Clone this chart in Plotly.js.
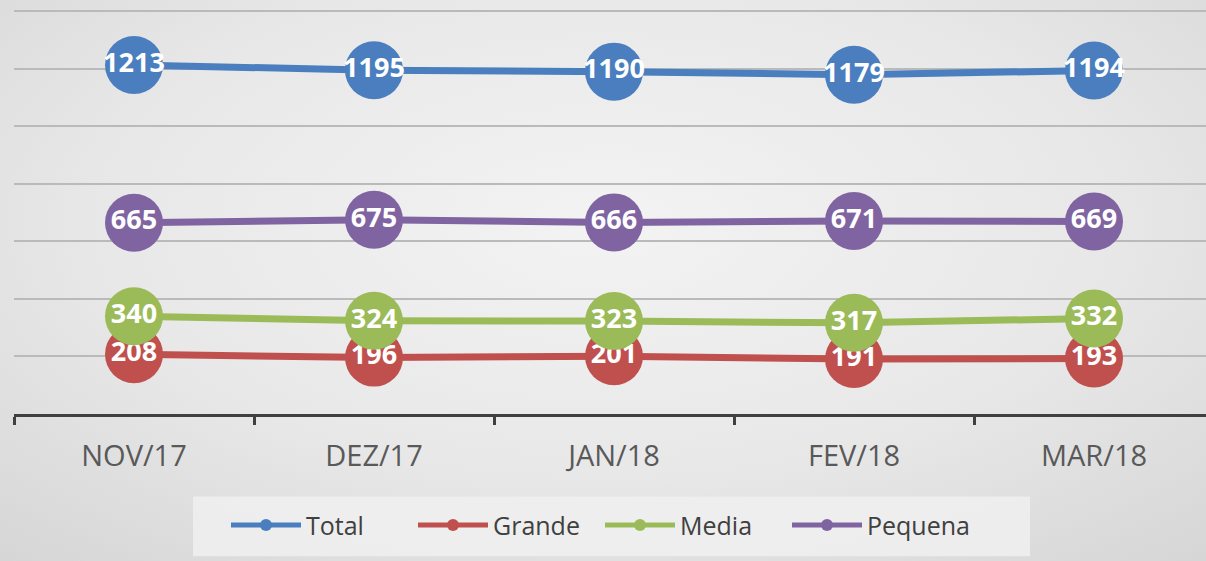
<!DOCTYPE html>
<html>
<head>
<meta charset="utf-8">
<script src="https://cdn.plot.ly/plotly-3.0.1.min.js"></script>
<style>
  html, body { margin: 0; padding: 0; }
  body {
    width: 1206px; height: 561px; overflow: hidden;
    background: radial-gradient(ellipse 75% 80% at 50% 40%, #f3f3f3 0%, #e8e8e8 55%, #d6d6d6 100%);
  }
  #chart { width: 1206px; height: 561px; }
</style>
</head>
<body>
<div id="chart"></div>
<script>
const categories = ["NOV/17", "DEZ/17", "JAN/18", "FEV/18", "MAR/18"];
const total   = [1213, 1195, 1190, 1179, 1194];
const grande  = [208, 196, 201, 191, 193];
const media   = [340, 324, 323, 317, 332];
const pequena = [665, 675, 666, 671, 669];

const seriesNames  = ["Total", "Grande", "Media", "Pequena"];
const seriesValues = [total, grande, media, pequena];
const seriesColors = ["#4a7ebf", "#c0504d", "#9bbb59", "#8064a2"];

const traces = seriesValues.map((vals, i) => ({
  type: "scatter",
  mode: "lines+markers+text",
  name: seriesNames[i],
  x: categories,
  y: vals,
  text: vals.map(String),
  textposition: "middle center",
  textfont: { family: "Open Sans", size: 27, color: "#ffffff", weight: "bold" },
  line: { color: seriesColors[i], width: 7 },
  marker: { color: seriesColors[i], size: 58 },
  cliponaxis: false
}));

const plotLeft = 14, plotRight = 1206, plotBottom = 414.5;
const paperW = plotRight - plotLeft;
const px2x = p => (p - plotLeft) / paperW;
const py2y = p => (plotBottom - p) / plotBottom;

const layout = {
  width: 1206,
  height: 561,
  margin: { l: 14, r: 0, t: 0, b: 561 - plotBottom },
  paper_bgcolor: "rgba(0,0,0,0)",
  plot_bgcolor: "rgba(0,0,0,0)",
  showlegend: true,
  legend: {
    orientation: "h",
    x: px2x(226), xanchor: "left",
    y: py2y(526), yanchor: "middle",
    bgcolor: "rgba(0,0,0,0)",
    font: { family: "Open Sans", size: 25, color: "#404040" },
    itemsizing: "constant",
    itemwidth: 70,
    entrywidth: 102,
    entrywidthmode: "pixels"
  },
  shapes: [{
    type: "rect", xref: "paper", yref: "paper", layer: "below",
    x0: px2x(193), x1: px2x(1030), y0: py2y(497), y1: py2y(557),
    fillcolor: "rgba(240,240,240,0.85)", line: { width: 0 }
  }],
  xaxis: {
    type: "category",
    range: [-0.5, -0.5 + paperW / 240],
    showgrid: false,
    showline: true, linecolor: "#404040", linewidth: 3,
    ticks: "outside", tickson: "boundaries", ticklen: 8, tickwidth: 3, tickcolor: "#404040",
    ticklabelstandoff: 14,
    tickfont: { family: "Open Sans", size: 29, color: "#595959" },
    zeroline: false,
    fixedrange: true
  },
  yaxis: {
    range: [0, 1439],
    dtick: 200,
    showgrid: true, gridcolor: "#bababa", gridwidth: 2,
    showticklabels: false,
    zeroline: false,
    showline: false,
    fixedrange: true
  }
};

Plotly.newPlot("chart", traces, layout, { displayModeBar: false, staticPlot: true });
</script>
</body>
</html>
